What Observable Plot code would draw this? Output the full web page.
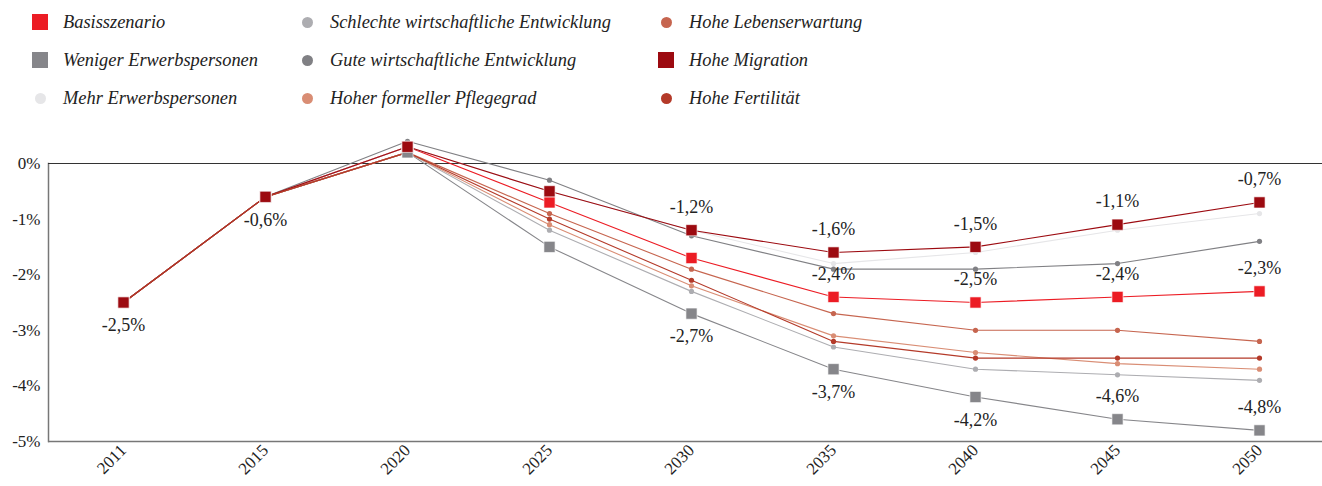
<!DOCTYPE html>
<html><head><meta charset="utf-8">
<script src="https://cdn.jsdelivr.net/npm/d3@7"></script>
<script src="https://cdn.jsdelivr.net/npm/@observablehq/plot@0.6"></script>
<style>
body{margin:0;background:#fff;font-family:"Liberation Serif",serif;}
#legend{position:relative;height:120px;width:1322px;}
.item{position:absolute;height:20px;line-height:20px;font-style:italic;font-size:18.4px;color:#222;white-space:nowrap;}
.mk{position:absolute;}
#chart svg{display:block;}
#chart svg, #chart svg text{font-family:"Liberation Serif",serif !important;}
</style></head><body>
<div id="legend"></div><div id="chart"></div>
<script>
const years = ["2011","2015","2020","2025","2030","2035","2040","2045","2050"];
const names = ["Basisszenario","Weniger Erwerbspersonen","Mehr Erwerbspersonen","Schlechte wirtschaftliche Entwicklung","Gute wirtschaftliche Entwicklung","Hoher formeller Pflegegrad","Hohe Lebenserwartung","Hohe Migration","Hohe Fertilität"];
const colors = ["#ec1c24","#86868a","#e6e6e8","#adadb1","#808084","#d98d74","#c6654f","#9c0a10","#b43a29"];
const squareSeries = ["Basisszenario","Weniger Erwerbspersonen","Hohe Migration"];

const basis     = [-2.5,-0.6,0.3,-0.7,-1.7,-2.4,-2.5,-2.4,-2.3];
const weniger   = [-2.5,-0.6,0.2,-1.5,-2.7,-3.7,-4.2,-4.6,-4.8];
const mehr      = [-2.5,-0.6,0.3,-0.5,-1.2,-1.8,-1.6,-1.2,-0.9];
const schlechte = [-2.5,-0.6,0.2,-1.2,-2.3,-3.3,-3.7,-3.8,-3.9];
const gute      = [-2.5,-0.6,0.4,-0.3,-1.3,-1.9,-1.9,-1.8,-1.4];
const pflege    = [-2.5,-0.6,0.2,-1.1,-2.2,-3.1,-3.4,-3.6,-3.7];
const leben     = [-2.5,-0.6,0.2,-0.9,-1.9,-2.7,-3.0,-3.0,-3.2];
const migration = [-2.5,-0.6,0.3,-0.5,-1.2,-1.6,-1.5,-1.1,-0.7];
const fert      = [-2.5,-0.6,0.2,-1.0,-2.1,-3.2,-3.5,-3.5,-3.5];
const seriesValues = [basis,weniger,mehr,schlechte,gute,pflege,leben,migration,fert];

const yTicks = [0,-1,-2,-3,-4,-5];

// which points carry value labels
const migrationLabelYears = ["2030","2035","2040","2045","2050"];
const basisLabelYears = ["2035","2040","2045","2050"];
const wenigerLabelYearsBelow = ["2011","2015","2030","2035","2040"];
const wenigerLabelYearsAbove = ["2045","2050"];

const rows = names.flatMap((name,i)=>years.map((year,j)=>({name,year,value:seriesValues[i][j]})));
const fmt = v => v.toFixed(1).replace(".", ",") + "%";
const pick = (name, ys) => rows.filter(d => d.name === name && ys.includes(d.year));
const labelsAbove = [...pick("Hohe Migration", migrationLabelYears), ...pick("Basisszenario", basisLabelYears), ...pick("Weniger Erwerbspersonen", wenigerLabelYearsAbove)];
const labelsBelow = pick("Weniger Erwerbspersonen", wenigerLabelYearsBelow);

// legend
const legend = document.getElementById("legend");
const colCenters = [40, 307, 666];
const rowCenters = [22, 60, 98];
names.forEach((name,i)=>{
  const c = Math.floor(i/3), r = i%3;
  const sq = squareSeries.includes(name);
  const s = sq ? 16 : 11;
  const m = document.createElement("div");
  m.className = "mk";
  m.style.cssText = `left:${colCenters[c]-s/2}px;top:${rowCenters[r]-s/2}px;width:${s}px;height:${s}px;background:${colors[i]};border-radius:${sq?0:50}%`;
  legend.appendChild(m);
  const t = document.createElement("div");
  t.className = "item";
  t.style.left = (colCenters[c]+23) + "px";
  t.style.top = (rowCenters[r]-10) + "px";
  t.textContent = name;
  legend.appendChild(t);
});

const chart = Plot.plot({
  width: 1322,
  height: 366,
  marginLeft: 48,
  marginRight: 0,
  marginTop: 43,
  marginBottom: 45,
  style: "font-family: 'Liberation Serif', serif; background: #fff; color: #222;",
  x: {type: "point", domain: years, range: [120, 1261], padding: 0, label: null},
  y: {domain: [-5, 0], label: null},
  color: {domain: names, range: colors},
  marks: [
    Plot.axisY({ticks: yTicks, tickFormat: d => `${d}%`, tickSize: 0, tickPadding: 8, fontSize: 17, label: null}),
    Plot.axisX({tickRotate: -45, tickSize: 0, tickPadding: 6, fontSize: 17, label: null}),
    Plot.frame({anchor: "left", stroke: "#777", strokeWidth: 1.5}),
    Plot.ruleY([-5], {stroke: "#777", strokeWidth: 1.5}),
    Plot.ruleY([0], {stroke: "#333", strokeWidth: 1}),
    Plot.line(rows, {x: "year", y: "value", z: "name", stroke: "name", strokeWidth: 1.1}),
    Plot.dot(rows.filter(d => !squareSeries.includes(d.name)), {x: "year", y: "value", fill: "name", r: 2.6}),
    Plot.dot(rows.filter(d => squareSeries.includes(d.name)), {x: "year", y: "value", fill: "name", symbol: "square", r: 6.3, stroke: "#fff", strokeWidth: 0.8, strokeOpacity: 0.8}),
    Plot.text(labelsAbove, {x: "year", y: "value", text: d => fmt(d.value), dy: -23, fontSize: 18, fill: "#222"}),
    Plot.text(labelsBelow, {x: "year", y: "value", text: d => fmt(d.value), dy: 23, fontSize: 18, fill: "#222"})
  ]
});
document.getElementById("chart").appendChild(chart);
</script>
</body></html>
